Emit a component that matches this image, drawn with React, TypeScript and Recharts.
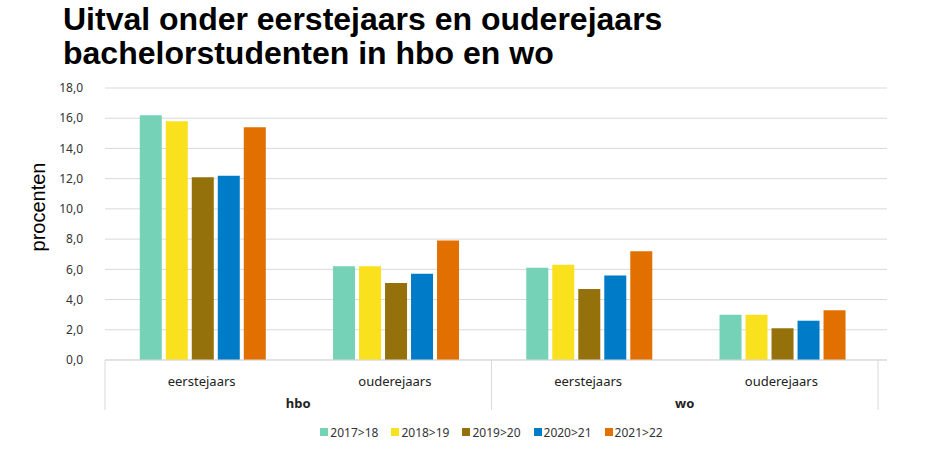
import { Bar, BarChart, CartesianGrid, Legend, XAxis, YAxis } from "recharts";

const categories = ["eerstejaars", "ouderejaars", "eerstejaars", "ouderejaars"];
const groups = ["hbo", "hbo", "wo", "wo"];

const years = ["2017>18", "2018>19", "2019>20", "2020>21", "2021>22"];
const values2017 = [16.2, 6.2, 6.1, 3.0];
const values2018 = [15.8, 6.2, 6.3, 3.0];
const values2019 = [12.1, 5.1, 4.7, 2.1];
const values2020 = [12.2, 5.7, 5.6, 2.6];
const values2021 = [15.4, 7.9, 7.2, 3.3];

const yTicks = [0, 2, 4, 6, 8, 10, 12, 14, 16, 18];

const COLORS = ["#76d2b6", "#f9e11e", "#94710a", "#007bc7", "#e17000"];

const series = [values2017, values2018, values2019, values2020, values2021];

const chartData = categories.map((category, i) => {
	const row: Record<string, string | number> = {
		key: `${groups[i]}-${category}`,
	};
	years.forEach((year, s) => {
		row[year] = series[s][i];
	});
	return row;
});

// plot geometry, used by the two-level category ticks
const WIDTH = 940;
const HEIGHT = 460;
const MARGIN = { top: 88, right: 53, left: 15, bottom: 18 };
const Y_AXIS_WIDTH = 90;
const X_PAD_RIGHT = 9;
const PLOT_LEFT = MARGIN.left + Y_AXIS_WIDTH;
const PLOT_RIGHT = WIDTH - MARGIN.right - X_PAD_RIGHT;
const BAND = (PLOT_RIGHT - PLOT_LEFT) / categories.length;

const GRID = "#d9d9d9";
const TEXT = "#222";
const SANS = "'Noto Sans', sans-serif";

function CategoryTick(props: any) {
	const { x, y, index } = props;
	const half = BAND / 2;
	const groupStart = index === 0 || groups[index] !== groups[index - 1];
	const last = index === categories.length - 1;

	return (
		<g>
			{groupStart && (
				<line x1={x - half} x2={x - half} y1={y} y2={y + 50} stroke={GRID} />
			)}
			{last && (
				<line x1={x + half} x2={x + half} y1={y} y2={y + 50} stroke={GRID} />
			)}
			<text
				x={x}
				y={y + 26}
				textAnchor="middle"
				fontFamily={SANS}
				fontSize={13}
				fill={TEXT}
			>
				{categories[index]}
			</text>
			{groupStart && (
				<text
					x={x + half}
					y={y + 48}
					textAnchor="middle"
					fontFamily={SANS}
					fontSize={13}
					fontWeight="bold"
					fill={TEXT}
				>
					{groups[index]}
				</text>
			)}
		</g>
	);
}

function LegendContent() {
	return (
		<div
			style={{
				height: 20,
				display: "flex",
				alignItems: "center",
				justifyContent: "center",
				gap: 13,
				fontFamily: SANS,
				fontSize: 12,
				color: "#333",
			}}
		>
			{years.map((year, i) => (
				<div key={year} style={{ display: "flex", alignItems: "center" }}>
					<span
						style={{
							width: 8,
							height: 8,
							background: COLORS[i],
							marginRight: 2,
							display: "inline-block",
						}}
					/>
					<span>{year}</span>
				</div>
			))}
		</div>
	);
}

export default function App() {
	return (
		<div
			style={{
				position: "fixed",
				left: 0,
				top: 0,
				width: WIDTH,
				height: HEIGHT,
				background: "#fff",
			}}
		>
			<div
				style={{
					position: "absolute",
					left: 63,
					top: 2,
					fontFamily: "'Liberation Sans', Arial, sans-serif",
					fontWeight: "bold",
					fontSize: 32,
					lineHeight: "34px",
					color: "#000",
				}}
			>
				Uitval onder eerstejaars en ouderejaars
				<br />
				bachelorstudenten in hbo en wo
			</div>

			<div style={{ position: "absolute", left: 0, top: 0 }}>
				<BarChart
					width={WIDTH}
					height={HEIGHT}
					data={chartData}
					margin={MARGIN}
					barCategoryGap="18%"
					barGap={4}
				>
					<CartesianGrid vertical={false} stroke={GRID} />
					<XAxis
						dataKey="key"
						height={62}
						interval={0}
						tickLine={false}
						tickSize={0}
						tickMargin={0}
						axisLine={{ stroke: GRID }}
						padding={{ left: 0, right: X_PAD_RIGHT }}
						tick={<CategoryTick />}
					/>
					<YAxis
						width={Y_AXIS_WIDTH}
						domain={[0, 18]}
						ticks={yTicks}
						interval={0}
						axisLine={false}
						tickLine={false}
						tickSize={0}
						tickMargin={22}
						tickFormatter={(v: number) => v.toFixed(1).replace(".", ",")}
						tick={{ fontFamily: SANS, fontSize: 12, fill: "#333" }}
						label={{
							value: "procenten",
							content: () => (
								<text
									x={38}
									y={207}
									transform="rotate(-90 38 207)"
									textAnchor="middle"
									dominantBaseline="central"
									fontFamily="'Liberation Sans', Arial, sans-serif"
									fontSize={20}
									fill="#000"
								>
									procenten
								</text>
							),
						}}
					/>
					<Legend
						verticalAlign="bottom"
						content={<LegendContent />}
						wrapperStyle={{ left: PLOT_LEFT, width: 773, height: 20 }}
					/>
					{years.map((year, i) => (
						<Bar
							key={year}
							dataKey={year}
							fill={COLORS[i]}
							isAnimationActive={false}
						/>
					))}
				</BarChart>
			</div>
		</div>
	);
}
